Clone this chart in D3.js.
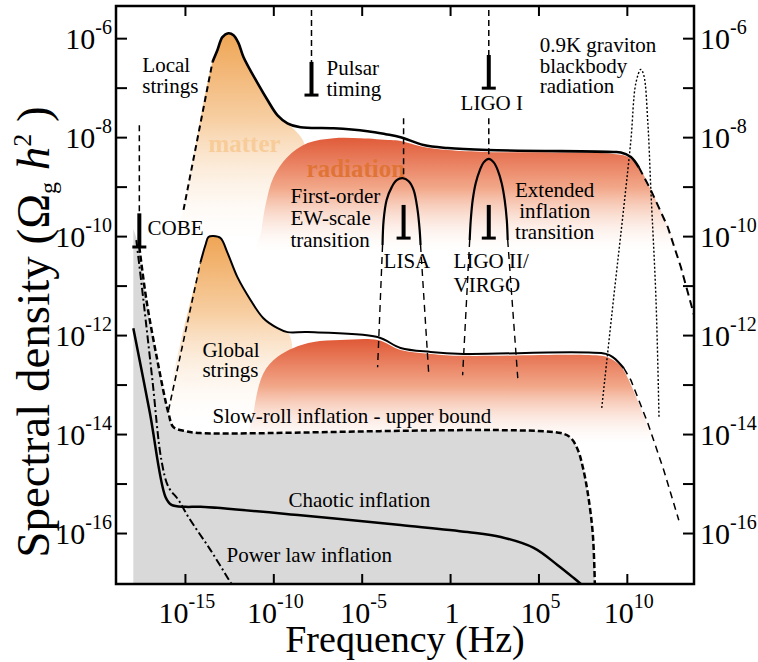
<!DOCTYPE html>
<html>
<head>
<meta charset="utf-8">
<script src="https://cdn.jsdelivr.net/npm/d3@7"></script>
<style>
  body { margin: 0; background: #fff; }
  svg { display: block; }
</style>
</head>
<body>
<svg id="chart" width="758" height="662" font-family="'Liberation Serif', 'DejaVu Serif', serif"></svg>
<script>
// all values are log10 exponents: [log10 f (Hz), log10 Omega_g h^2]
const xTickExp = [-15, -10, -5, 0, 5, 10];
const yTickExp = d3.range(-16, -5);
const yLabelExp = [-16, -14, -12, -10, -8, -6];

const localStringsRise = [[-15.08, -9.47], [-13.44, -6.48]];
const localStrings = [[-13.44, -6.48], [-13.16, -6.24], [-12.88, -5.98], [-12.54, -5.90], [-12.25, -5.94],
  [-11.97, -6.10], [-11.69, -6.38], [-10.89, -6.91], [-10.33, -7.25], [-9.76, -7.56], [-9.20, -7.72],
  [-8.46, -7.80], [-6.59, -7.82], [-4.67, -7.88], [-3.64, -7.94], [-2.80, -8.00], [-1.50, -8.16],
  [-0.14, -8.22], [2.13, -8.26], [9.26, -8.30], [9.66, -8.31], [10.23, -8.40], [10.68, -8.61]];
const localStringsTail = [[10.68, -8.61], [11.36, -9.07], [12.32, -9.82], [13.06, -10.63], [13.85, -11.66]];

const globalStringsRise = [[-15.93, -13.52], [-14.12, -10.53]];
const globalStrings = [[-14.12, -10.53], [-13.84, -10.18], [-13.67, -10.02], [-13.39, -10.00], [-12.99, -10.04],
  [-12.59, -10.34], [-12.03, -10.83], [-11.29, -11.29], [-10.56, -11.66], [-9.76, -11.86], [-9.20, -11.94],
  [-8.06, -11.94], [-4.10, -12.04], [-2.80, -12.26], [-1.10, -12.34], [0.77, -12.38], [8.81, -12.38],
  [9.26, -12.46], [9.83, -12.67]];
const globalStringsTail = [[9.83, -12.67], [10.23, -12.91], [11.19, -13.78], [12.09, -14.73], [12.94, -15.74]];

const matterUpper = [[-15.54, -10.28], [-15.08, -9.47], [-13.44, -6.48], [-13.16, -6.24], [-12.88, -5.98],
  [-12.54, -5.90], [-12.25, -5.94], [-11.97, -6.10], [-11.69, -6.38], [-10.89, -6.91], [-10.33, -7.25],
  [-9.76, -7.56], [-9.20, -7.72], [-8.18, -8.20], [-9.59, -10.28]];
const matterLower = [[-15.93, -13.52], [-14.12, -10.53], [-13.84, -10.18], [-13.67, -10.02], [-13.39, -10.00],
  [-12.99, -10.04], [-12.59, -10.34], [-12.03, -10.83], [-11.29, -11.29], [-10.56, -11.66], [-9.76, -11.86],
  [-9.20, -11.94], [-8.92, -12.30], [-9.88, -13.92], [-15.7, -13.92]];

const radiationUpper = [[-10.84, -10.38], [-10.67, -9.88], [-10.44, -9.37], [-9.99, -8.81], [-9.20, -8.40],
  [-8.06, -8.12], [-6.59, -8.02], [-5.06, -8.02], [-3.36, -8.06], [-2.80, -8.08], [-1.50, -8.20],
  [-0.14, -8.26], [2.13, -8.30], [9.26, -8.34], [10.06, -8.40], [10.62, -8.57], [11.36, -9.07],
  [12.32, -9.82], [12.77, -10.38]];
const radiationLower = [[-11.18, -14.12], [-11.12, -13.58], [-10.56, -12.77], [-9.76, -12.44], [-8.86, -12.26],
  [-7.72, -12.14], [-6.19, -12.10], [-4.10, -12.10], [-2.80, -12.30], [-1.10, -12.38], [0.77, -12.42],
  [8.53, -12.42], [9.10, -12.48], [9.66, -12.63], [10.06, -12.87], [11.19, -13.82], [11.65, -14.22]];

const slowRoll = [[-17.58, -10.22], [-17.18, -11.29], [-16.56, -12.51], [-15.93, -13.58], [-15.65, -13.86],
  [-14.97, -13.94], [-14.12, -13.98], [6.26, -13.98], [6.83, -14.08], [7.23, -14.32], [7.51, -14.67],
  [7.79, -15.19], [8.07, -16.00], [8.19, -17.03]];
const chaotic = [[-17.92, -11.86], [-16.99, -13.56], [-16.10, -15.27], [-15.76, -15.43], [-14.97, -15.47],
  [-14.12, -15.47], [-8.46, -15.64], [-2.80, -15.84], [0.99, -15.98], [2.87, -16.08], [4.73, -16.30],
  [6.09, -16.65], [7.00, -16.91], [7.40, -17.03]];
const powerLaw = [[-17.75, -10.08], [-17.35, -11.29], [-16.84, -12.91], [-16.33, -14.53], [-15.93, -15.07],
  [-15.37, -15.33], [-14.80, -15.68], [-13.56, -16.34], [-12.37, -17.03]];
const blackbody = [[8.58, -13.47], [9.26, -11.23], [9.83, -9.41], [10.23, -8.06], [10.51, -6.91],
  [10.79, -6.63], [10.96, -6.75], [11.19, -7.72], [11.36, -9.07], [11.65, -11.29], [11.82, -13.66]];

const lisaArc = [[-3.82, -10.18], [-3.76, -9.68], [-3.59, -9.27], [-3.30, -9.01], [-3.02, -8.87], [-2.69, -8.83],
  [-2.34, -8.89], [-2.06, -9.07], [-1.84, -9.47], [-1.72, -9.88], [-1.67, -10.18]];
const lisaLegs = [[[-3.82, -10.18], [-4.10, -12.65]], [[-1.67, -10.18], [-1.21, -12.77]]];
const ligoArc = [[1.11, -10.08], [1.17, -9.68], [1.28, -9.27], [1.45, -8.93], [1.68, -8.67], [1.90, -8.51],
  [2.19, -8.44], [2.47, -8.51], [2.70, -8.67], [2.92, -8.93], [3.09, -9.27], [3.21, -9.68], [3.26, -10.08]];
const ligoLegs = [[[1.11, -10.08], [0.71, -12.81]], [[3.26, -10.08], [3.83, -12.87]]];

// detector sensitivities: frequency, dashed guide range, bar range
const detectors = [
  { name: "COBE", f: -17.58, dash: [-7.76, -9.54], bar: [-9.54, -10.22] },
  { name: "Pulsar", f: -7.84, dash: [-5.43, -6.48], bar: [-6.48, -7.15] },
  { name: "LIGO I", f: 2.19, dash: [-5.43, -6.34], bar: [-6.34, -7.01] },
  { name: "LISA", f: -2.63, dash: [-7.62, -8.83], bar: [-9.37, -10.04] },
  { name: "LIGO II", f: 2.19, dash: [-7.62, -8.44], bar: [-9.37, -10.04] }
];

const labels = [
  { t: "Local", at: [-17.41, -6.69] }, { t: "strings", at: [-17.41, -7.11] },
  { t: "Pulsar", at: [-6.99, -6.75] }, { t: "timing", at: [-6.99, -7.17] },
  { t: "LIGO I", at: [2.36, -7.45], mid: true },
  { t: "0.9K graviton", at: [5.07, -6.28] }, { t: "blackbody", at: [5.07, -6.71] }, { t: "radiation", at: [5.07, -7.11] },
  { t: "First-order", at: [-9.03, -9.33] }, { t: "EW-scale", at: [-9.03, -9.78] }, { t: "transition", at: [-9.03, -10.22] },
  { t: "COBE", at: [-17.12, -9.98] },
  { t: "LISA", at: [-3.76, -10.65] },
  { t: "LIGO II/", at: [0.20, -10.65] }, { t: "VIRGO", at: [0.20, -11.13] },
  { t: "Extended", at: [5.92, -9.21], mid: true }, { t: "inflation", at: [5.92, -9.64], mid: true },
  { t: "transition", at: [5.92, -10.06], mid: true },
  { t: "Global", at: [-14.01, -12.44] }, { t: "strings", at: [-14.01, -12.85] },
  { t: "Slow-roll inflation - upper bound", at: [-13.44, -13.78] },
  { t: "Chaotic inflation", at: [-9.14, -15.47] },
  { t: "Power law inflation", at: [-12.65, -16.59] }
];
const eraLabels = [
  { t: "matter", at: [-13.67, -8.30], color: "#f7cc98" },
  { t: "radiation", at: [-8.12, -8.81], color: "#e07436" }
];

const pLeft = 116, pRight = 694, pTop = 6, pBottom = 584;
const x = d3.scaleLog().domain([10 ** -18.9, 10 ** 13.8]).range([pLeft, pRight]);
const y = d3.scaleLog().domain([10 ** -17.03, 10 ** -5.35]).range([pBottom, pTop]);
const X = e => x(10 ** e), Y = e => y(10 ** e);

const svg = d3.select("#chart");
svg.append("rect").attr("width", 758).attr("height", 662).attr("fill", "#fff");

const defs = svg.append("defs");
defs.append("clipPath").attr("id", "plot").append("rect")
  .attr("x", pLeft).attr("y", pTop).attr("width", pRight - pLeft).attr("height", pBottom - pTop);

function grad(id, e0, e1, stops) {
  const g = defs.append("linearGradient").attr("id", id).attr("gradientUnits", "userSpaceOnUse")
    .attr("x1", 0).attr("x2", 0).attr("y1", Y(e0)).attr("y2", Y(e1));
  stops.forEach(s => g.append("stop").attr("offset", s[0]).attr("stop-color", s[1]).attr("stop-opacity", s[2]));
}
grad("matterU", -5.9, -10.3, [[0, "#efa555", 1], [0.4, "#f7cfa3", 1], [1, "#fff", 0]]);
grad("matterL", -10.0, -13.95, [[0, "#efa555", 1], [0.4, "#f7cfa3", 1], [1, "#fff", 0]]);
grad("radU", -8.0, -10.3, [[0, "#e05a38", 1], [0.45, "#f2a88a", 1], [1, "#fdeee6", 0]]);
grad("radL", -12.1, -14.2, [[0, "#e05a38", 1], [0.45, "#f2a88a", 1], [1, "#fdeee6", 0]]);

const plot = svg.append("g").attr("clip-path", "url(#plot)");

const straight = d3.line().x(d => X(d[0])).y(d => Y(d[1]));
const smooth = d3.line().x(d => X(d[0])).y(d => Y(d[1])).curve(d3.curveCatmullRom.alpha(0.5));
const blob = d3.line().x(d => X(d[0])).y(d => Y(d[1])).curve(d3.curveCatmullRomClosed.alpha(0.5));

plot.append("path").attr("d", blob(matterUpper)).attr("fill", "url(#matterU)");
plot.append("path").attr("d", blob(matterLower)).attr("fill", "url(#matterL)");
plot.append("path").attr("d", blob(radiationUpper)).attr("fill", "url(#radU)");
plot.append("path").attr("d", blob(radiationLower)).attr("fill", "url(#radL)");

// gray region under slow-roll bound
const grayPath = `M${X(-17.92)},${Y(-17.03)}L${X(-17.92)},${Y(-9.85)}L` +
  smooth(slowRoll).slice(1) + `L${X(8.19)},${Y(-17.03)}Z`;
plot.append("path").attr("d", grayPath).attr("fill", "#d9d9d9");

eraLabels.forEach(l => plot.append("text")
  .attr("x", X(l.at[0])).attr("y", Y(l.at[1]))
  .attr("font-size", 25).attr("font-weight", "bold").attr("fill", l.color).text(l.t));

function draw(data, gen, width, dash) {
  plot.append("path").attr("d", gen(data)).attr("fill", "none").attr("stroke", "#000")
    .attr("stroke-width", width).attr("stroke-dasharray", dash || null)
    .attr("stroke-linejoin", "round");
}
draw(localStringsRise, straight, 2, "6,4");
draw(localStrings, smooth, 2.6);
draw(localStringsTail, straight, 2, "8,5");
draw(globalStringsRise, straight, 1.6, "6,4");
draw(globalStrings, smooth, 2);
draw(globalStringsTail, straight, 1.5, "7,5");
draw(slowRoll, smooth, 2.5, "6,3");
draw(chaotic, smooth, 2.5);
draw(powerLaw, smooth, 2, "8,3,2,3");
draw(blackbody, smooth, 1.4, "2,2");
draw(lisaArc, smooth, 2.2);
draw(ligoArc, smooth, 2.2);
lisaLegs.concat(ligoLegs).forEach(leg => draw(leg, straight, 1.4, "7,5"));

detectors.forEach(d => {
  const gx = X(d.f);
  plot.append("line").attr("x1", gx).attr("x2", gx).attr("y1", Y(d.dash[0])).attr("y2", Y(d.dash[1]))
    .attr("stroke", "#000").attr("stroke-width", 1.5).attr("stroke-dasharray", "6,4");
  plot.append("line").attr("x1", gx).attr("x2", gx).attr("y1", Y(d.bar[0])).attr("y2", Y(d.bar[1]))
    .attr("stroke", "#000").attr("stroke-width", 4);
  plot.append("line").attr("x1", gx - 7).attr("x2", gx + 7).attr("y1", Y(d.bar[1])).attr("y2", Y(d.bar[1]))
    .attr("stroke", "#000").attr("stroke-width", 3);
});

labels.forEach(l => svg.append("text")
  .attr("x", X(l.at[0])).attr("y", Y(l.at[1]))
  .attr("text-anchor", l.mid ? "middle" : "start")
  .attr("font-size", 21).text(l.t));

// axes: inward ticks on all four sides
const tickStyle = g => g.call(s => s.select(".domain").remove())
  .call(s => s.selectAll(".tick line").attr("stroke", "#000").attr("stroke-width", 2));
const xVals = xTickExp.map(e => 10 ** e), yVals = yTickExp.map(e => 10 ** e);
svg.append("g").attr("transform", `translate(0,${pBottom})`)
  .call(d3.axisBottom(x).tickValues(xVals).tickSize(-10).tickFormat("")).call(tickStyle);
svg.append("g").attr("transform", `translate(0,${pTop})`)
  .call(d3.axisTop(x).tickValues(xVals).tickSize(-10).tickFormat("")).call(tickStyle);
svg.append("g").attr("transform", `translate(${pLeft},0)`)
  .call(d3.axisLeft(y).tickValues(yVals).tickSize(-11).tickFormat("")).call(tickStyle);
svg.append("g").attr("transform", `translate(${pRight},0)`)
  .call(d3.axisRight(y).tickValues(yVals).tickSize(-11).tickFormat("")).call(tickStyle);

svg.append("rect").attr("x", pLeft).attr("y", pTop).attr("width", pRight - pLeft).attr("height", pBottom - pTop)
  .attr("fill", "none").attr("stroke", "#000").attr("stroke-width", 2.5);

function powerLabel(sel, e) {
  if (e === 0) { sel.append("tspan").text("1"); return; }
  sel.append("tspan").text("10");
  sel.append("tspan").attr("dy", -15).attr("font-size", 20).text(String(e));
}
xTickExp.forEach(e => {
  const t = svg.append("text").attr("x", X(e) + 2).attr("y", 623).attr("text-anchor", "middle").attr("font-size", 30);
  powerLabel(t, e);
});
yLabelExp.forEach(e => {
  const l = svg.append("text").attr("x", 112).attr("y", Y(e) + 11).attr("text-anchor", "end").attr("font-size", 30);
  powerLabel(l, e);
  const r = svg.append("text").attr("x", 700).attr("y", Y(e) + 11).attr("font-size", 30);
  powerLabel(r, e);
});

svg.append("text").attr("x", 405).attr("y", 652).attr("text-anchor", "middle")
  .attr("font-size", 38).text("Frequency (Hz)");

const yt = svg.append("text").attr("transform", "translate(49,332) rotate(-90)")
  .attr("text-anchor", "middle").attr("font-size", 47);
yt.append("tspan").text("Spectral density (Ω");
yt.append("tspan").attr("font-size", 24).attr("dy", 7).text("g");
yt.append("tspan").attr("dy", -7).text(" ");
yt.append("tspan").attr("font-style", "italic").text("h");
yt.append("tspan").attr("font-size", 26).attr("dy", -18).text("2");
yt.append("tspan").attr("dy", 18).text(" )");
</script>
</body>
</html>
